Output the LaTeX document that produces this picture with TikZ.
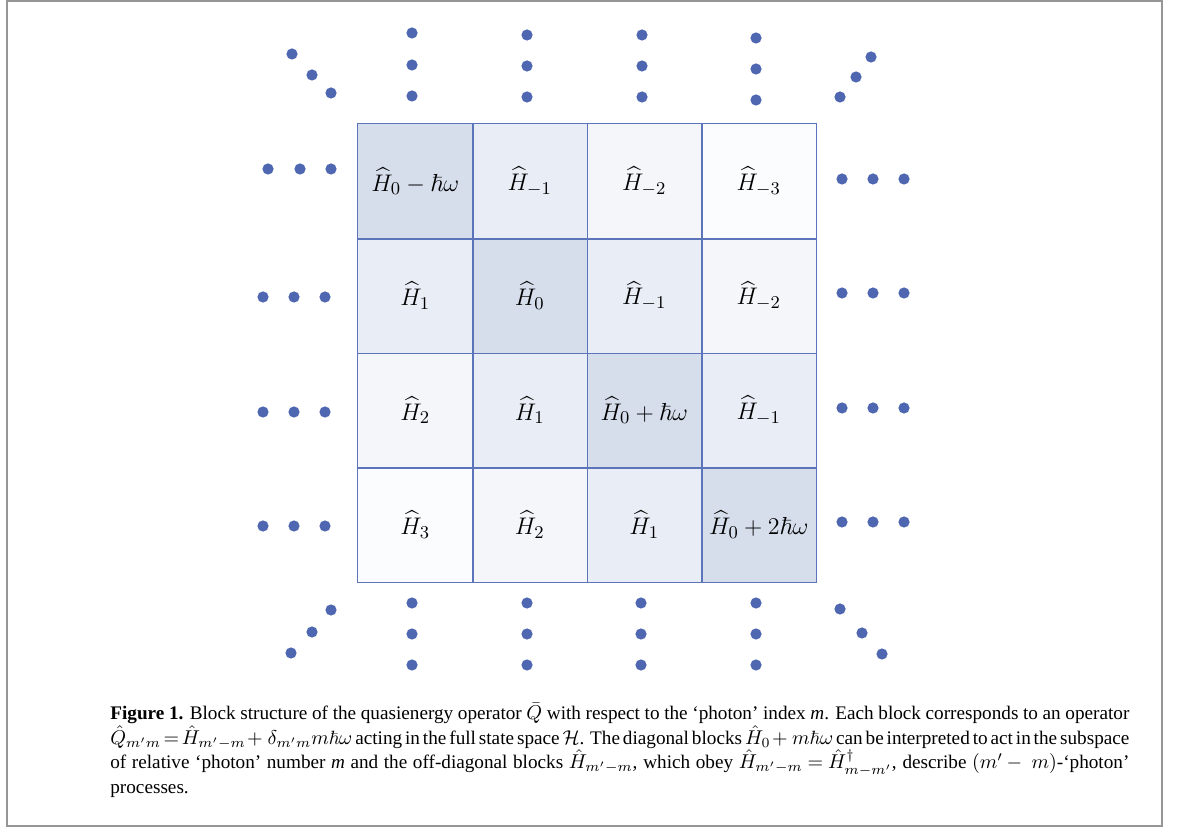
\documentclass[tikz,border=0pt]{standalone}
\usepackage[no-math]{fontspec}
\setmainfont{Liberation Serif}
\usepackage{amsmath,amssymb}
\definecolor{dotblue}{RGB}{79,103,176}
\definecolor{gridblue}{RGB}{92,116,186}
\definecolor{frameg}{RGB}{150,150,150}
\definecolor{k0}{RGB}{214,222,236}
\definecolor{k1}{RGB}{233,237,245}
\definecolor{k2}{RGB}{244,246,250}
\definecolor{k3}{RGB}{251,252,253}
\tikzset{
  cell/.style={minimum size=57.25pt, inner sep=0pt, font=\fontsize{12.3}{14}\selectfont},
  gridline/.style={draw=gridblue, line width=0.8pt},
  dot/.style={circle, fill=dotblue, minimum size=5.6pt, inner sep=0pt},
}
\newcommand{\capline}[1]{\hbox to 509.5pt{#1}}
\begin{document}
\begin{tikzpicture}[x=0.5pt,y=-0.5pt]
\useasboundingbox (0,0) rectangle (1179,828);
\draw[frameg, line width=1pt] (6.5,1.5) rectangle (1162,826);
% cells
\node[cell, fill=k0] (c11) at (415.25,181.25) {$\widehat{H}_0-\hbar\omega$};
\node[cell, fill=k1] (c12) at (529.75,181.25) {$\widehat{H}_{-1}$};
\node[cell, fill=k2] (c13) at (644.25,181.25) {$\widehat{H}_{-2}$};
\node[cell, fill=k3] (c14) at (758.75,181.25) {$\widehat{H}_{-3}$};
\node[cell, fill=k1] (c21) at (415.25,295.75) {$\widehat{H}_1$};
\node[cell, fill=k0] (c22) at (529.75,295.75) {$\widehat{H}_0$};
\node[cell, fill=k1] (c23) at (644.25,295.75) {$\widehat{H}_{-1}$};
\node[cell, fill=k2] (c24) at (758.75,295.75) {$\widehat{H}_{-2}$};
\node[cell, fill=k2] (c31) at (415.25,410.25) {$\widehat{H}_2$};
\node[cell, fill=k1] (c32) at (529.75,410.25) {$\widehat{H}_1$};
\node[cell, fill=k0] (c33) at (644.25,410.25) {$\widehat{H}_0+\hbar\omega$};
\node[cell, fill=k1] (c34) at (758.75,410.25) {$\widehat{H}_{-1}$};
\node[cell, fill=k3] (c41) at (415.25,524.75) {$\widehat{H}_3$};
\node[cell, fill=k2] (c42) at (529.75,524.75) {$\widehat{H}_2$};
\node[cell, fill=k1] (c43) at (644.25,524.75) {$\widehat{H}_1$};
\node[cell, fill=k0] (c44) at (758.75,524.75) {$\widehat{H}_0+2\hbar\omega$};
% grid lines
\draw[gridline] (c11.north west) rectangle (c44.south east);
\draw[gridline] (c11.north east) -- (c41.south east);
\draw[gridline] (c12.north east) -- (c42.south east);
\draw[gridline] (c13.north east) -- (c43.south east);
\draw[gridline] (c11.south west) -- (c14.south east);
\draw[gridline] (c21.south west) -- (c24.south east);
\draw[gridline] (c31.south west) -- (c34.south east);
% top dots
\node[dot] (t11) at (412,33) {}; \node[dot] (t12) at (412,65) {}; \node[dot] (t13) at (412,96) {};
\node[dot] (t21) at (527,35) {}; \node[dot] (t22) at (527,66) {}; \node[dot] (t23) at (527,97) {};
\node[dot] (t31) at (642,35) {}; \node[dot] (t32) at (642,66) {}; \node[dot] (t33) at (642,97) {};
\node[dot] (t41) at (756,38) {}; \node[dot] (t42) at (756,69) {}; \node[dot] (t43) at (756,100) {};
% top diagonals
\node[dot] (tl1) at (292,54) {}; \node[dot] (tl2) at (312,75) {}; \node[dot] (tl3) at (331,93) {};
\node[dot] (tr1) at (871,57) {}; \node[dot] (tr2) at (856,77) {}; \node[dot] (tr3) at (840,97) {};
% left dots
\node[dot] (l11) at (268,169) {}; \node[dot] (l12) at (300,169) {}; \node[dot] (l13) at (331,169) {};
\node[dot] (l21) at (263,297) {}; \node[dot] (l22) at (294,297) {}; \node[dot] (l23) at (325,297) {};
\node[dot] (l31) at (263,412) {}; \node[dot] (l32) at (294,412) {}; \node[dot] (l33) at (325,412) {};
\node[dot] (l41) at (263,526) {}; \node[dot] (l42) at (294,526) {}; \node[dot] (l43) at (325,526) {};
% right dots
\node[dot] (r11) at (842,179) {}; \node[dot] (r12) at (873,179) {}; \node[dot] (r13) at (904,179) {};
\node[dot] (r21) at (842,293) {}; \node[dot] (r22) at (873,293) {}; \node[dot] (r23) at (904,293) {};
\node[dot] (r31) at (842,408) {}; \node[dot] (r32) at (873,408) {}; \node[dot] (r33) at (904,408) {};
\node[dot] (r41) at (842,522) {}; \node[dot] (r42) at (873,522) {}; \node[dot] (r43) at (904,522) {};
% bottom dots
\node[dot] (b11) at (412,603) {}; \node[dot] (b12) at (412,634) {}; \node[dot] (b13) at (412,665) {};
\node[dot] (b21) at (527,603) {}; \node[dot] (b22) at (527,634) {}; \node[dot] (b23) at (527,665) {};
\node[dot] (b31) at (641,603) {}; \node[dot] (b32) at (641,634) {}; \node[dot] (b33) at (641,665) {};
\node[dot] (b41) at (756,603) {}; \node[dot] (b42) at (756,634) {}; \node[dot] (b43) at (756,665) {};
% bottom diagonals
\node[dot] (bl1) at (331,610) {}; \node[dot] (bl2) at (312,632) {}; \node[dot] (bl3) at (291,653) {};
\node[dot] (br1) at (840,609) {}; \node[dot] (br2) at (862,633) {}; \node[dot] (br3) at (882,654) {};
% caption
\node[anchor=north west, inner sep=0pt, align=left] (cap) at (110,703) {\parbox{509.5pt}{\fontsize{9.6}{12.25}\selectfont
\spaceskip=0.25em plus 0.3em minus 0.12em
\medmuskip=3mu plus 2mu minus 2mu \thickmuskip=4mu plus 3mu minus 2mu
\capline{\textbf{Figure 1.} Block structure of the quasienergy operator $\bar{Q}$ with respect to the `photon' index \textit{m}. Each block corresponds to an operator}
\capline{$\hat{Q}_{m'm}=\hat{H}_{m'-m}+\,\delta_{m'm}m\hbar\omega$ acting in the full state space $\mathcal{H}$. The diagonal blocks $\hat{H}_0+\ m\hbar\omega$ can be interpreted to act in the subspace}
\capline{of relative `photon' number \textit{m} and the off-diagonal blocks $\hat{H}_{m'-m}$, which obey $\hat{H}_{m'-m}=\hat{H}^{\dagger}_{m-m'}$, describe $(m'-\ m)$-`photon'}
\hbox{processes.}}};
\end{tikzpicture}
\end{document}
